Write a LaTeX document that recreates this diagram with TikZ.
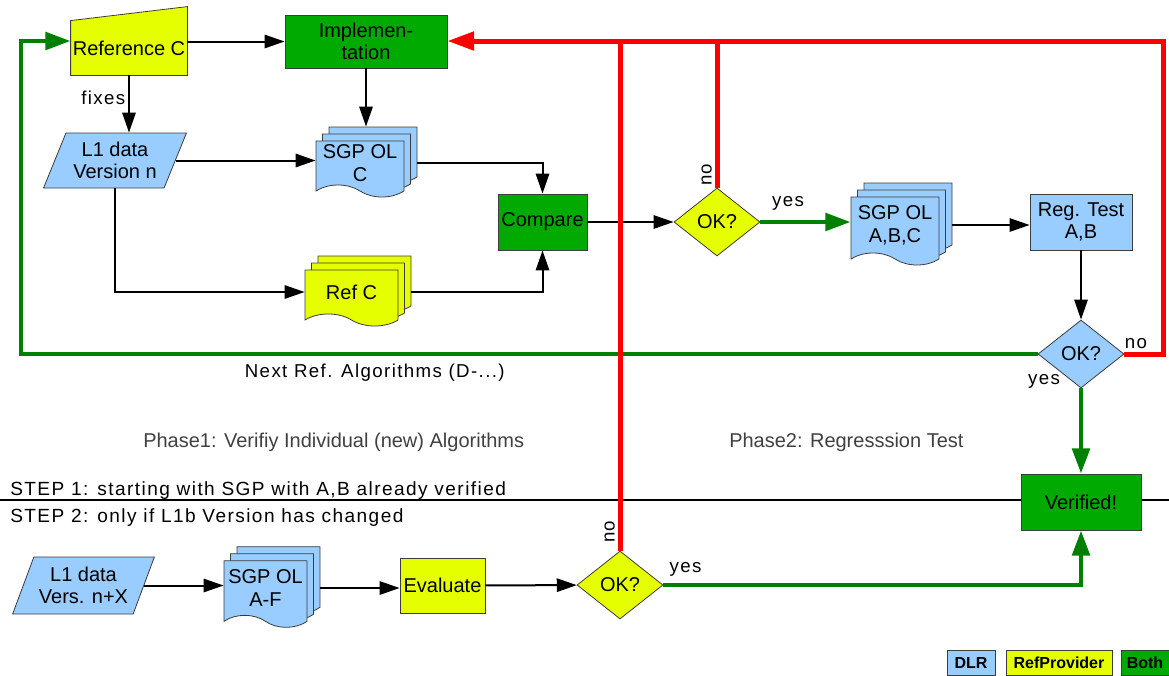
\documentclass[tikz,border=0pt]{standalone}
\usepackage{fontspec}
\setmainfont{Liberation Sans}
\newfontfamily\lblfont[LetterSpace=7.5]{Liberation Sans}
\usetikzlibrary{
  shapes.geometric, shapes.symbols,
  arrows.meta, positioning, calc,
  backgrounds, shadows
}
\definecolor{dlrblue}{RGB}{153,204,255}
\definecolor{refyellow}{RGB}{230,255,0}
\definecolor{bothgreen}{RGB}{0,170,0}
\definecolor{loopgreen}{RGB}{0,128,0}
\definecolor{nored}{RGB}{255,0,0}
\definecolor{edgegray}{RGB}{60,60,60}
\tikzset{
  basebox/.style={rectangle,draw=edgegray,line width=0.6pt,align=center,font=\fontsize{15}{17}\selectfont,inner sep=0pt},
  dlrbox/.style={basebox,fill=dlrblue},
  refbox/.style={basebox,fill=refyellow},
  bothbox/.style={basebox,fill=bothgreen},
  datanode/.style={trapezium,trapezium left angle=63,trapezium right angle=117,trapezium stretches=true,
    draw=edgegray,line width=0.6pt,fill=dlrblue,align=center,font=\fontsize{15}{17}\selectfont,inner sep=0pt},
  docnode/.style={tape,tape bend top=none,tape bend bottom=out and in,tape bend height=9pt,
    draw=edgegray,line width=0.6pt,fill=#1,align=center,font=\fontsize{15}{17}\selectfont,inner sep=0pt,
    copy shadow={shadow xshift=9.75pt,shadow yshift=10.5pt,fill=#1,draw=edgegray,line width=0.6pt},
    copy shadow={shadow xshift=4.875pt,shadow yshift=5.25pt,fill=#1,draw=edgegray,line width=0.6pt}},
  decnode/.style={diamond,aspect=1.26,draw=edgegray,line width=0.6pt,fill=#1,font=\fontsize{15}{17}\selectfont,
    inner sep=0pt,minimum width=64.5pt,minimum height=51pt},
  lbl/.style={font=\lblfont\fontsize{14}{16}\selectfont,text=black,inner sep=2pt},
  steptxt/.style={font=\lblfont\fontsize{14.3}{16}\selectfont,inner sep=0pt},
  phasetxt/.style={font=\fontsize{15}{17}\selectfont,text=black!75,inner sep=0pt},
  legbox/.style={rectangle,draw=edgegray,line width=0.6pt,font=\fontsize{12}{14}\selectfont\bfseries,minimum height=18.75pt,inner sep=0pt},
  arr/.style={-{Triangle[length=15pt,width=10pt]},line width=1.5pt,black},
  greenarr/.style={-{Triangle[length=19pt,width=13pt]},line width=3.5pt,color=loopgreen},
  redarr/.style={-{Triangle[length=20pt,width=13.5pt]},line width=3.75pt,color=nored},
  redline/.style={line width=3.75pt,color=nored},
  sepline/.style={line width=1.5pt,black}
}
\begin{document}
\begin{tikzpicture}[x=0.75pt,y=-0.75pt]
  \useasboundingbox (0,0) rectangle (1169,675);
  % line between step 1 and step 2
  \draw[sepline] (0,500) -- (1169,500);

  % step 1
  \node[refbox,draw=none,fill=none,minimum width=87pt,minimum height=40.5pt] (refc) at (129,48) {Reference C};
  \begin{scope}[on background layer]
    \filldraw[fill=refyellow,draw=edgegray,line width=0.6pt]
      (refc.south west) -- (refc.south east) -- ([yshift=10.5pt]refc.north east) -- (refc.north west) -- cycle;
  \end{scope}
  \node[bothbox,minimum width=121.5pt,minimum height=39.75pt] (impl) at (366,41.5) {Implemen-\\tation};
  \node[datanode,minimum width=108pt,minimum height=41.25pt] (l1) at (115,160.5) {L1 data\\Version n};
  \node[docnode=dlrblue,minimum width=66pt,minimum height=42pt] (sgpc) at (360,163) {SGP OL\\C};
  \node[docnode=refyellow,minimum width=69.75pt,minimum height=42pt] (refdoc) at (351.5,292) {Ref C};
  \node[bothbox,minimum width=66.75pt,minimum height=42pt] (cmp) at (542.5,222) {Compare};
  \node[decnode=refyellow] (ok1) at (717,222) {OK?};
  \node[docnode=dlrblue,minimum width=66pt,minimum height=51pt] (sgpabc) at (895,225) {SGP OL\\A,B,C};
  \node[dlrbox,minimum width=76.5pt,minimum height=42pt] (regt) at (1081,222) {Reg. Test\\A,B};
  \node[decnode=dlrblue] (okb) at (1081,354) {OK?};
  \node[bothbox,minimum width=90pt,minimum height=42pt] (verif) at (1081,502) {Verified!};

  \coordinate (loopc) at (21,41);
  \coordinate (redc) at (1163,41);
  \coordinate (sgpctop) at ($(sgpc.north)+(0,-14)$);
  \coordinate (sgpcout) at ($(sgpc.east)+(13,0)$);
  \coordinate (refdocout) at ($(refdoc.east)+(13,0)$);
  \coordinate (sgpabcout) at ($(sgpabc.east)+(13,0)$);

  \draw[arr] (refc.east |- impl) -- (impl);
  \draw[arr] (refc.south) -- node[lbl,left,pos=0.4]{fixes} (refc.south |- l1.north);
  \draw[arr] (impl.south) -- (impl.south |- sgpctop);
  \draw[arr] (l1.east) -- (l1.east -| sgpc.west);
  \draw[arr] (sgpcout) -| (cmp.north);
  \draw[arr] (l1.south) |- (refdoc.west);
  \draw[arr] (refdocout) -| (cmp.south);
  \draw[arr] (cmp) -- (ok1);
  \draw[greenarr] (ok1) -- node[lbl,anchor=south west,pos=0,xshift=5pt,yshift=5pt]{yes} (ok1 -| sgpabc.west);
  \draw[arr] (sgpabcout) -- (sgpabcout -| regt.west);
  \draw[arr] (regt) -- (okb);
  \draw[greenarr] (okb) -- node[lbl,anchor=east,pos=0,xshift=-12pt,yshift=5pt]{yes} (verif);
  \draw[greenarr] (okb.west) -- node[lbl,below,pos=0.652,yshift=-4pt]{Next Ref. Algorithms (D-...)}
    (okb.west -| loopc) -- (loopc) -- (refc.west |- loopc);
  \draw[redline] (ok1.north) -- node[lbl,rotate=90,anchor=south,pos=0.088]{no} (ok1.north |- redc);
  \draw[redarr] (okb.east) -- node[lbl,above,pos=0.3]{no} (okb.east -| redc) -- (redc) -- (impl.east |- redc);

  % phases
  \node[phasetxt,anchor=base west] (phase1) at (143,447) {Phase1: Verifiy Individual (new) Algorithms};
  \node[phasetxt,anchor=base west] (phase2) at (729,447) {Phase2: Regresssion Test};
  \node[steptxt,anchor=base west] (step1) at (10,495) {STEP 1: starting with SGP with A,B already verified};
  \node[steptxt,anchor=base west] (step2) at (10,522) {STEP 2: only if L1b Version has changed};

  % step 2
  \node[datanode,minimum width=107.25pt,minimum height=42.75pt] (l1x) at (83.5,585.5) {L1 data\\Vers. n+X};
  \node[docnode=dlrblue,minimum width=62.25pt,minimum height=50pt] (sgpaf) at (265.5,588) {SGP OL\\A-F};
  \node[refbox,minimum width=63.75pt,minimum height=41.25pt] (eval) at (442.5,585.5) {Evaluate};
  \node[decnode=refyellow] (ok2) at (620,585) {OK?};
  \coordinate (sgpafout) at ($(sgpaf.east)+(13,0)$);

  \draw[arr] (l1x.east) -- (l1x.east -| sgpaf.west);
  \draw[arr] (sgpafout) -- (sgpafout -| eval.west);
  \draw[arr] (eval) -- (ok2);
  \draw[redline] (ok2.north) -- node[lbl,rotate=90,anchor=south,pos=0.037]{no} (ok2.north |- redc);
  \draw[greenarr] (ok2.east) -- node[lbl,anchor=south west,pos=0,xshift=1pt,yshift=3pt]{yes}
    (ok2.east -| verif) -- (verif.south);

  % legend
  \node[legbox,fill=dlrblue,minimum width=36pt] (legdlr) at (971,662.5) {DLR};
  \node[legbox,fill=refyellow,minimum width=79.5pt] (legref) at (1059,662.5) {RefProvider};
  \node[legbox,fill=bothgreen,minimum width=36pt] (legboth) at (1145,662.5) {Both};
\end{tikzpicture}
\end{document}
